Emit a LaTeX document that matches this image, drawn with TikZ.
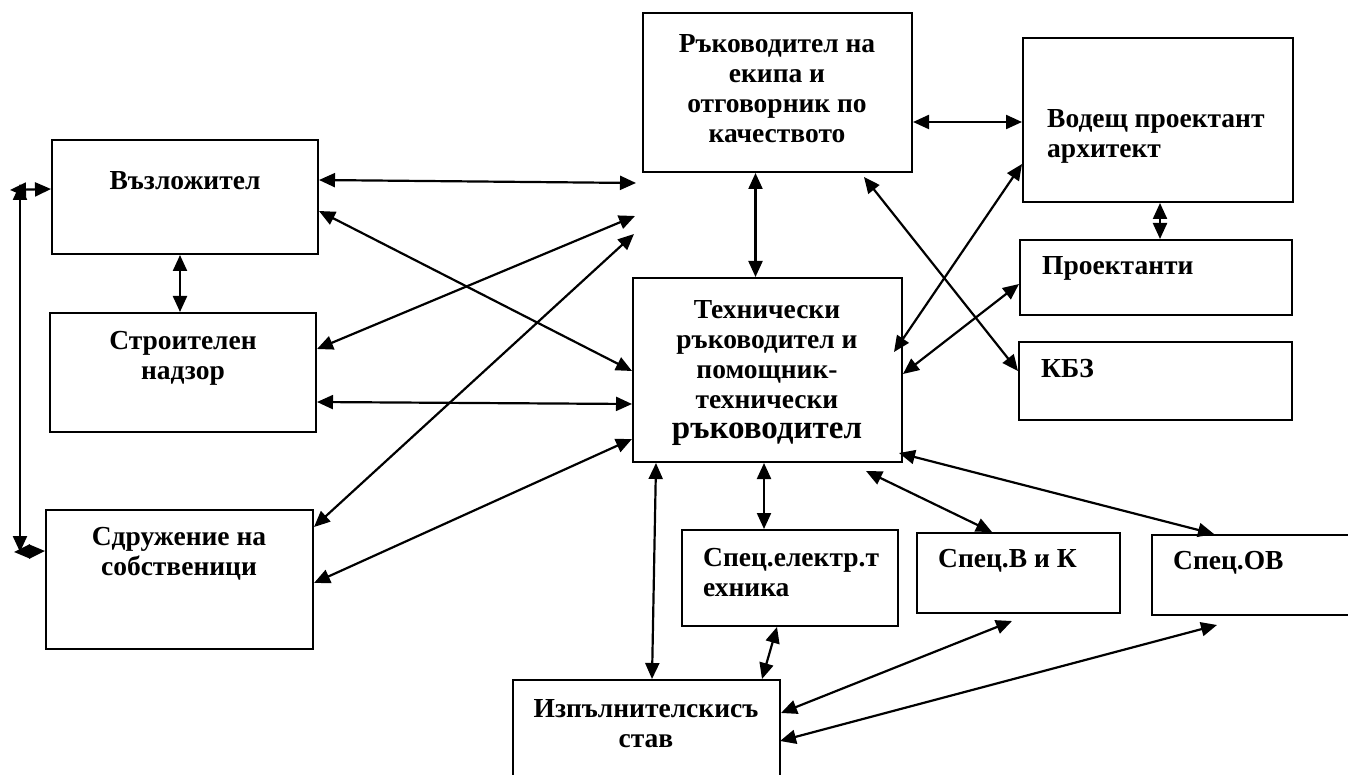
\documentclass[tikz,border=0pt]{standalone}
\usepackage{fontspec}
\setmainfont{Liberation Serif}
\usetikzlibrary{arrows.meta,calc}
\begin{document}
\begin{tikzpicture}[x=1pt,y=-1pt,
 box/.style={draw,line width=2pt,inner sep=0pt},
 lbl/.style={font=\fontsize{27.5}{30}\selectfont\bfseries,align=center,inner sep=0pt},
 lbll/.style={lbl,align=left,anchor=west},
 dbl/.style={line width=2.2pt,{Triangle[length=16pt,width=14pt]}-{Triangle[length=16pt,width=14pt]}}]
\clip (0,0) rectangle (1348,775);
\fill[white] (0,0) rectangle (1348,775);
% boxes
\node[box,minimum width=266pt,minimum height=114pt] (A) at (185,197) {};
\node[box,minimum width=266pt,minimum height=119pt] (S) at (183,372.5) {};
\node[box,minimum width=267pt,minimum height=139pt] (D) at (179.5,579.5) {};
\node[box,minimum width=269pt,minimum height=159pt] (R) at (777.5,92.5) {};
\node[box,minimum width=269pt,minimum height=184pt] (T) at (767.5,370) {};
\node[box,minimum width=270pt,minimum height=164pt] (V) at (1158,120) {};
\node[box,minimum width=272pt,minimum height=75pt] (P) at (1156,277.5) {};
\node[box,minimum width=273pt,minimum height=78pt] (K) at (1155.5,381) {};
\node[box,minimum width=216pt,minimum height=96pt] (E) at (790,578) {};
\node[box,minimum width=203pt,minimum height=80pt] (BK) at (1018.5,573) {};
\node[box,minimum width=208pt,minimum height=80pt] (OV) at (1256,575) {};
\node[box,minimum width=267pt,minimum height=110pt] (I) at (646.5,735) {};
% labels
\node[lbl] (tA) at (185,181) {Възложител};
\node[lbl] (tS) at (183,358) {Строителен\\надзор};
\node[lbl] (tD) at (179,554) {Сдружение на\\собственици};
\node[lbl] (tR) at (777,89) {Ръководител на\\екипа и\\отговорник по\\качеството};
\node[lbl] (tT) at (767,373) {Технически\\ръководител и\\помощник-\\технически\\{\fontsize{33}{36}\selectfont ръководител}};
\node[lbll] (tV) at (1047,136) {Водещ проектант\\архитект};
\node[lbll] (tP) at (1042,268) {Проектанти};
\node[lbll] (tK) at (1041,369) {КБЗ};
\node[lbll] (tE) at (703,573) {Спец.електр.т\\ехника};
\node[lbll] (tBK) at (938,561) {Спец.В и К};
\node[lbll] (tOV) at (1173,563) {Спец.ОВ};
\node[lbl] (tI) at (646,724) {Изпълнителскисъ\\став};
% free ends
\coordinate (c1) at (636,183);
\coordinate (c2) at (635,216);
\coordinate (c3) at (634,234);
\coordinate (L1) at (20,184);
\coordinate (L2) at (20,552);
\coordinate (L3) at (10,190);
\coordinate (L4) at (14,552);
% connectors
\draw[dbl] ($(A.north east)+(0,41)$) -- (c1);
\draw[dbl] ($(A.north east)+(0,72)$) -- ($(T.north west)+(0,94)$);
\draw[dbl] ($(S.north east)+(0,37)$) -- (c2);
\draw[dbl] ($(D.north east)+(0,18)$) -- (c3);
\draw[dbl] ($(S.north east)+(0,90)$) -- ($(T.north west)+(0,127)$);
\draw[dbl] ($(D.north east)+(0,74)$) -- ($(T.north west)+(0,162)$);
\draw[dbl] ($(A.south)+(-5,0)$) -- ($(S.north)+(-3,0)$);
\draw[dbl] (L1) -- (L2);
\draw[dbl] (L3) -- ($(A.north west)+(0,50)$);
\draw[dbl] (L4) -- ($(D.north west)+(0,42)$);
\draw[dbl] ($(R.south)+(-22,0)$) -- ($(T.north)+(-12,0)$);
\draw[dbl] ($(R.north east)+(0,110)$) -- ($(V.north west)+(0,85)$);
\draw[dbl] ($(V.north west)+(0,127)$) -- ($(T.north east)+(-9,75)$);
\draw[dbl] ($(R.south east)+(-49,4)$) -- ($(K.north west)+(0,30)$);
\draw[dbl] ($(P.north west)+(0,45)$) -- ($(T.north east)+(0,97)$);
\draw[dbl] ($(V.south)+(2,0)$) -- ($(P.north)+(4,0)$);
\draw[dbl] ($(T.south west)+(24,0)$) -- ($(I.north west)+(140,0)$);
\draw[dbl] ($(T.south west)+(132,0)$) -- ($(E.north west)+(83,0)$);
\draw[dbl] ($(T.south east)+(-37,8)$) -- ($(BK.north west)+(76,0)$);
\draw[dbl] ($(T.south east)+(-4,-10)$) -- ($(OV.north west)+(63,0)$);
\draw[dbl] ($(E.south west)+(96,0)$) -- ($(I.north west)+(250,0)$);
\draw[dbl] ($(BK.south west)+(96,7)$) -- ($(I.north west)+(269,34)$);
\draw[dbl] ($(OV.south west)+(66,9)$) -- ($(I.north west)+(268,62)$);
\end{tikzpicture}
\end{document}
